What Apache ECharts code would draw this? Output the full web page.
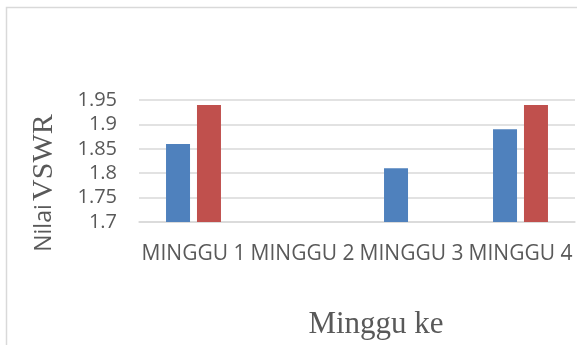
<!DOCTYPE html>
<html>
<head>
<meta charset="utf-8">
<script src="https://cdn.jsdelivr.net/npm/echarts@6/dist/echarts.min.js"></script>
<style>
  html, body { margin: 0; padding: 0; background: #fff; }
  #main { width: 577px; height: 345px; }
</style>
</head>
<body>
<div id="main"></div>
<script>
var categories = ['MINGGU 1', 'MINGGU 2', 'MINGGU 3', 'MINGGU 4'];
var seriesBlue = [1.86, null, 1.81, 1.89];
var seriesRed = [1.94, null, null, 1.94];
var yTicks = ['1.7', '1.75', '1.8', '1.85', '1.9', '1.95'];

var gridGrey = '#d9d9d9';
var textGrey = '#595959';

var myChart = echarts.init(document.getElementById('main'));
var option = {
    animation: false,
    backgroundColor: '#fff',
    graphic: [{
        type: 'rect',
        shape: { x: 6.5, y: 7.5, width: 640, height: 400 },
        style: { fill: 'none', stroke: gridGrey, lineWidth: 1.5 },
        silent: true
    }],
    grid: {
        left: 139,
        right: 2,
        top: 100,
        bottom: 123
    },
    xAxis: {
        type: 'category',
        data: categories,
        name: 'Minggu ke',
        nameLocation: 'middle',
        nameGap: 87,
        nameTextStyle: {
            fontFamily: 'Liberation Serif',
            fontSize: 31,
            color: textGrey,
            padding: [0, 0, 0, 38]
        },
        axisLine: { show: true, lineStyle: { color: gridGrey, width: 1.5 } },
        axisTick: { show: false },
        axisLabel: {
            interval: 0,
            margin: 22,
            fontFamily: 'Open Sans',
            fontSize: 21,
            color: textGrey
        }
    },
    yAxis: {
        type: 'value',
        min: 1.7,
        max: 1.95,
        interval: 0.05,
        name: '{a|Nilai} {b|VSWR}',
        nameLocation: 'middle',
        nameRotate: 90,
        nameGap: 80,
        nameTextStyle: {
            color: textGrey,
            padding: [0, 44, 0, 0],
            rich: {
                a: { fontFamily: 'Open Sans', fontSize: 23, color: textGrey },
                b: { fontFamily: 'Liberation Serif', fontSize: 30, color: textGrey }
            }
        },
        axisLine: { show: false },
        axisTick: { show: false },
        splitLine: { lineStyle: { color: gridGrey, width: 1.5 } },
        axisLabel: {
            margin: 22,
            fontFamily: 'Open Sans',
            fontSize: 20,
            color: textGrey,
            formatter: function (v) {
                var idx = Math.round((v - 1.7) / 0.05);
                return yTicks[idx] !== undefined ? yTicks[idx] : '';
            }
        }
    },
    series: [{
        name: 'Seri 1',
        type: 'bar',
        data: seriesBlue,
        barWidth: 24,
        barGap: '29%',
        itemStyle: { color: '#4F81BD' }
    }, {
        name: 'Seri 2',
        type: 'bar',
        data: seriesRed,
        barWidth: 24,
        itemStyle: { color: '#C0504D' }
    }]
};
myChart.setOption(option);
</script>
</body>
</html>
